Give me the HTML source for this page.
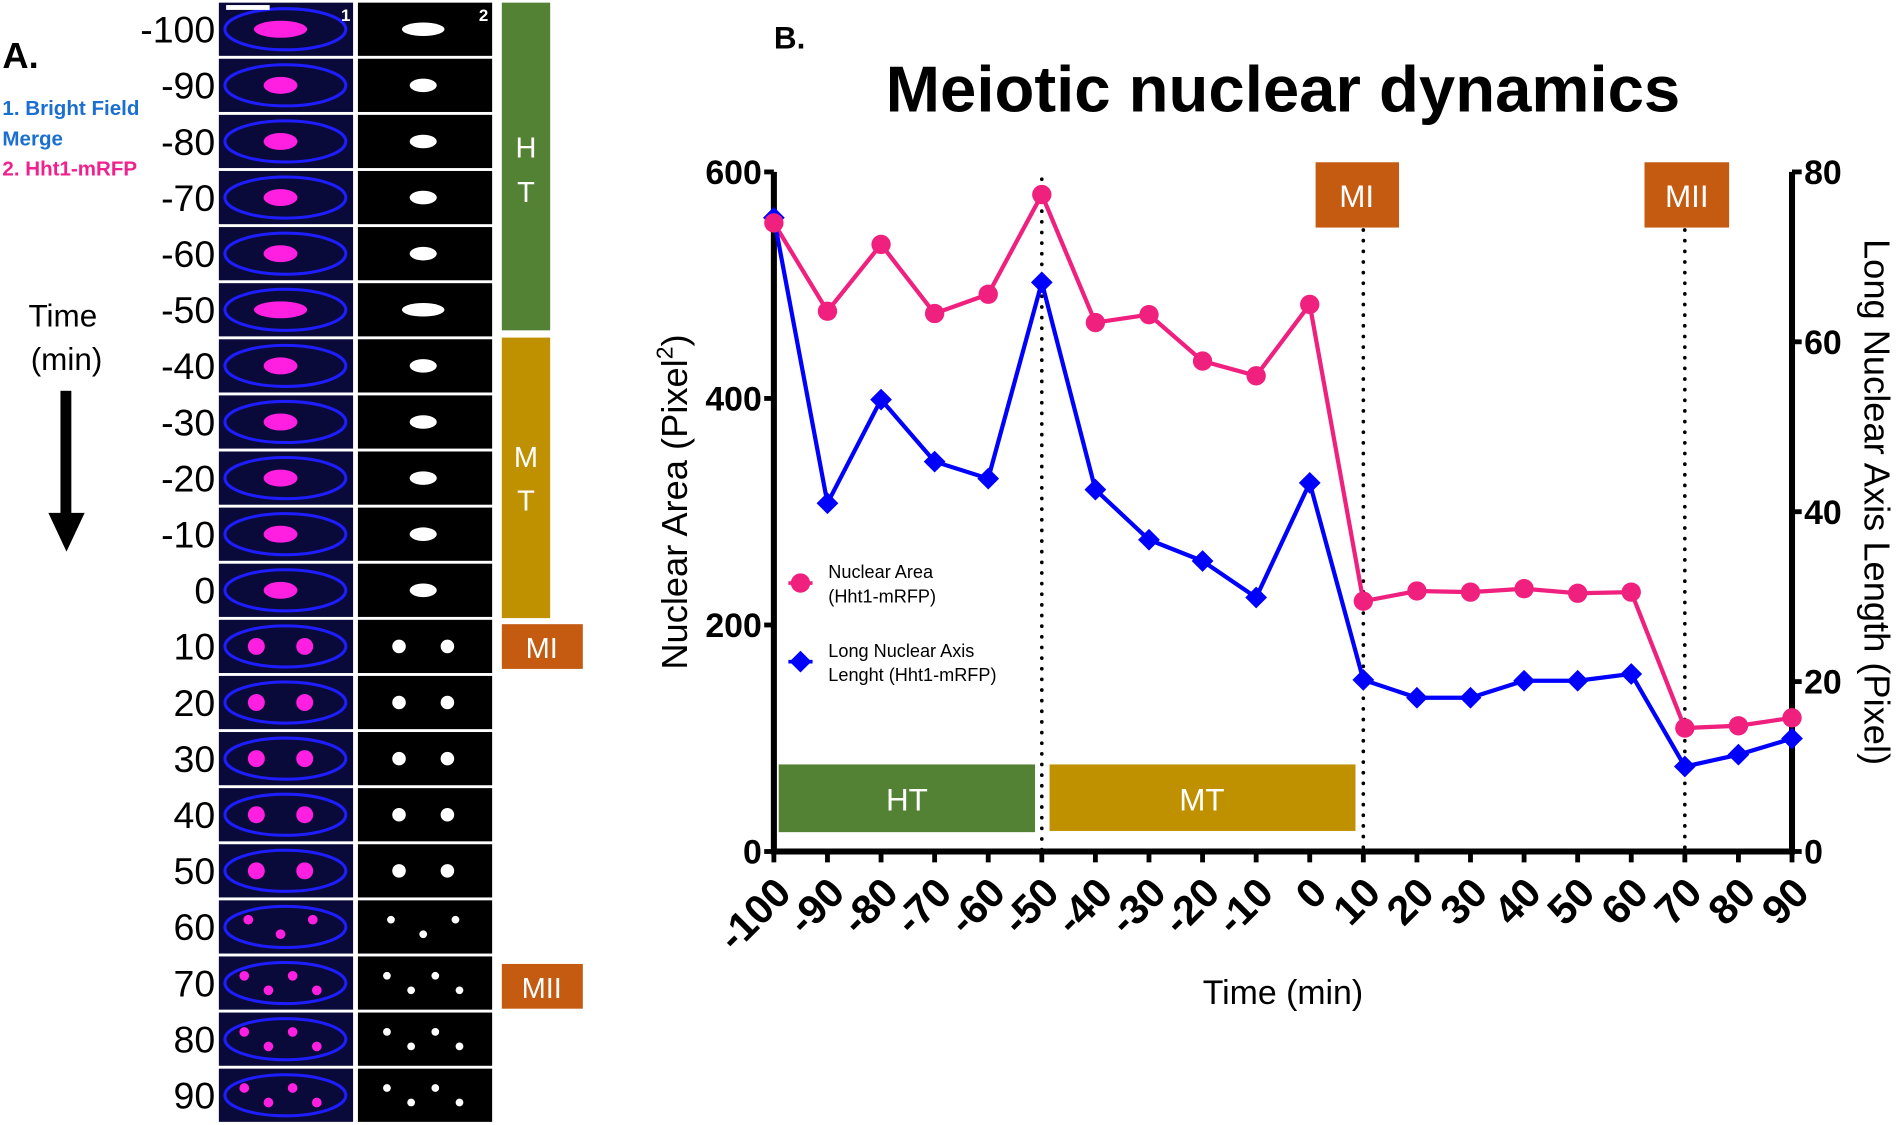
<!DOCTYPE html>
<html><head><meta charset="utf-8"><style>
html,body{margin:0;padding:0;background:#fff;}
svg{display:block;}
text{font-family:"Liberation Sans",sans-serif;}
</style></head><body>
<svg id="fig" width="1896" height="1125" viewBox="0 0 1568 930" xmlns="http://www.w3.org/2000/svg">
<g id="panelA">
  <text x="2" y="56" font-size="30" font-weight="bold">A.</text>
  <text x="2" y="95" font-size="17" font-weight="bold" fill="#1a6fd0">1. Bright Field</text>
  <text x="2" y="120" font-size="17" font-weight="bold" fill="#1a6fd0">Merge</text>
  <text x="2" y="145" font-size="17" font-weight="bold" fill="#f0208c">2. Hht1-mRFP</text>
  <text x="52" y="270" font-size="26" text-anchor="middle">Time</text>
  <text x="55" y="306" font-size="26" text-anchor="middle">(min)</text>
  <rect x="50" y="323" width="9" height="105" fill="#000"/>
  <polygon points="40,424 70,424 55,456" fill="#000"/>
  <rect x="415" y="2" width="40" height="271" fill="#548235"/>
  <text x="435" y="130" font-size="24" fill="#fff" text-anchor="middle">H</text>
  <text x="435" y="167" font-size="24" fill="#fff" text-anchor="middle">T</text>
  <rect x="415" y="279" width="40" height="232" fill="#bf9000"/>
  <text x="435" y="386" font-size="24" fill="#fff" text-anchor="middle">M</text>
  <text x="435" y="422" font-size="24" fill="#fff" text-anchor="middle">T</text>
  <rect x="415" y="516" width="67" height="37" fill="#c55a11"/>
  <text x="448" y="544" font-size="24" fill="#fff" text-anchor="middle">MI</text>
  <rect x="415" y="797" width="67" height="37" fill="#c55a11"/>
  <text x="448" y="825" font-size="24" fill="#fff" text-anchor="middle">MII</text>
</g>
<g id="panelB">
  <text x="640" y="40" font-size="26" font-weight="bold">B.</text>
  <text x="1061" y="92" font-size="54" font-weight="bold" text-anchor="middle">Meiotic nuclear dynamics</text>
  <rect x="644" y="632" width="212" height="56" fill="#548235"/>
  <text x="750" y="670" font-size="26" fill="#fff" text-anchor="middle">HT</text>
  <rect x="868" y="632" width="253" height="55" fill="#bf9000"/>
  <text x="994" y="670" font-size="26" fill="#fff" text-anchor="middle">MT</text>
  <rect x="1088" y="134" width="69" height="54" fill="#c55a11"/>
  <text x="1122" y="171" font-size="26" fill="#fff" text-anchor="middle">MI</text>
  <rect x="1360" y="134" width="70" height="54" fill="#c55a11"/>
  <text x="1395" y="171" font-size="26" fill="#fff" text-anchor="middle">MII</text>
  <text transform="translate(568,415) rotate(-90)" font-size="30" text-anchor="middle">Nuclear Area (Pixel<tspan font-size="19" dy="-12">2</tspan><tspan dy="12">)</tspan></text>
  <text transform="translate(1542,415) rotate(90)" font-size="30" text-anchor="middle">Long Nuclear Axis Length (Pixel)</text>
  <text x="1061" y="830" font-size="28" text-anchor="middle">Time (min)</text>
  <circle cx="662" cy="482" r="8" fill="#f0207f"/>
  <line x1="652" y1="482" x2="672" y2="482" stroke="#f0207f" stroke-width="3"/>
  <text x="685" y="478" font-size="15">Nuclear Area</text>
  <text x="685" y="498" font-size="15">(Hht1-mRFP)</text>
  <polygon points="662,538 671,547 662,556 653,547" fill="#0000ff"/>
  <line x1="652" y1="547" x2="672" y2="547" stroke="#0000ff" stroke-width="3"/>
  <text x="685" y="543" font-size="15">Long Nuclear Axis</text>
  <text x="685" y="563" font-size="15">Lenght (Hht1-mRFP)</text>
</g>
</svg>
<script>
const timesMin = [-100,-90,-80,-70,-60,-50,-40,-30,-20,-10,0,10,20,30,40,50,60,70,80,90];
const areaValues = [555,477,536,475,492,580,467,474,433,420,483,221,230,229,232,228,229,109,111,118];
const axisValues = [74.6,41.0,53.2,45.9,43.9,67.0,42.6,36.7,34.2,29.9,43.4,20.2,18.1,18.1,20.1,20.1,20.9,10.0,11.4,13.3];
const leftTicks = [0,200,400,600];
const rightTicks = [0,20,40,60,80];
const phaseLines = [-50,10,70];
const rowLabels = ["-100","-90","-80","-70","-60","-50","-40","-30","-20","-10","0","10","20","30","40","50","60","70","80","90"];
const rowNuclei = [1,1,1,1,1,1,1,1,1,1,1,2,2,2,2,2,3,4,4,4];

const NS = "http://www.w3.org/2000/svg";
const gA = document.getElementById('panelA');
const gB = document.getElementById('panelB');
function mk(tag, attrs, parent){const e=document.createElementNS(NS,tag);for(const k in attrs)e.setAttribute(k,attrs[k]);(parent||gB).appendChild(e);return e;}
const X0=640,X1=1482,Y0=704,Y1=142;
const xs = t => X0 + (t+100)/190*(X1-X0);
const yl = v => Y0 - v/600*(Y0-Y1);
const yr = v => Y0 - v/80*(Y0-Y1);

rowLabels.forEach((lab,i)=>{
  const y=2+i*46.4, h=44;
  const c1=mk('rect',{x:181,y:y,width:111,height:h,fill:'#0a0a3a'},gA);
  
  
  const o=mk('ellipse',{cx:236,cy:y+h/2,rx:50,ry:17,fill:'none',stroke:'#1d1dff','stroke-width':2.5},gA);
  
  
  const c2=mk('rect',{x:296,y:y,width:111,height:h,fill:'#000'},gA);
  
  
  const n=rowNuclei[i];
  for(let k=0;k<n;k++){
    let dx, rx, ry, dy=0;
    if(n===1){dx=0;rx=(i===0||i===5)?22:14;ry=7;}
    else{dx=(k-(n-1)/2)*(80/n);rx=n>2?4:7;ry=n>2?4:7;dy=(k%2?6:-6)*(n>2?1:0);}
    const b1=mk('ellipse',{cx:232+dx,cy:y+h/2+dy,rx:rx,ry:ry,fill:'#ff1fe0'},gA);
    
    
    const b2=mk('ellipse',{cx:350+dx,cy:y+h/2+dy,rx:rx*0.8,ry:ry*0.8,fill:'#fff'},gA);
    
    
  }
  const t=mk('text',{x:178,y:y+h/2+11,'font-size':31,'text-anchor':'end'},gA);
  t.textContent=lab;
  
  
});
const sb=mk('rect',{x:187,y:4,width:36,height:4,fill:'#fff'},gA);


[["1",282],["2",396]].forEach(([s,x])=>{const t=mk('text',{x:x,y:17,'font-size':14,'font-weight':'bold',fill:'#fff'},gA);t.textContent=s;

});

phaseLines.forEach(t=>{
  const l=mk('line',{x1:xs(t),y1:t===-50?148:190,x2:xs(t),y2:Y0,stroke:'#000','stroke-width':3,'stroke-dasharray':'0.1 8.7','stroke-linecap':'round'});
  
  
});
const ax=mk('path',{d:`M${X0},${Y1} V${Y0} H${X1} V${Y1}`,fill:'none',stroke:'#000','stroke-width':5});


leftTicks.forEach(v=>{
  const l=mk('line',{x1:X0-8,y1:yl(v),x2:X0,y2:yl(v),stroke:'#000','stroke-width':4});
  
  
  const t=mk('text',{x:X0-10,y:yl(v)+10,'font-size':28,'font-weight':'bold','text-anchor':'end'});
  t.textContent=v;
  
  
});
rightTicks.forEach(v=>{
  const l=mk('line',{x1:X1,y1:yr(v),x2:X1+8,y2:yr(v),stroke:'#000','stroke-width':4});
  
  
  const t=mk('text',{x:X1+10,y:yr(v)+10,'font-size':28,'font-weight':'bold'});
  t.textContent=v;
  
  
});
timesMin.forEach(tm=>{
  const x=xs(tm);
  const l=mk('line',{x1:x,y1:Y0,x2:x,y2:Y0+9,stroke:'#000','stroke-width':4});
  
  
  const t=mk('text',{x:0,y:0,'font-size':34,'font-weight':'bold','text-anchor':'end',transform:`translate(${x+16},${Y0+36}) rotate(-45)`});
  t.textContent=tm;
  
  
});
const pa=mk('polyline',{points:timesMin.map((t,i)=>xs(t)+','+yl(areaValues[i])).join(' '),fill:'none',stroke:'#f0207f','stroke-width':3.5});


const pb=mk('polyline',{points:timesMin.map((t,i)=>xs(t)+','+yr(axisValues[i])).join(' '),fill:'none',stroke:'#0000ff','stroke-width':3.5});


timesMin.forEach((t,i)=>{
  const x=xs(t),y=yr(axisValues[i]);
  const d=mk('polygon',{points:`${x},${y-9} ${x+9},${y} ${x},${y+9} ${x-9},${y}`,fill:'#0000ff'});
  
  
});
timesMin.forEach((t,i)=>{
  const c=mk('circle',{cx:xs(t),cy:yl(areaValues[i]),r:8,fill:'#f0207f'});
  
  
});
</script>
</body></html>
